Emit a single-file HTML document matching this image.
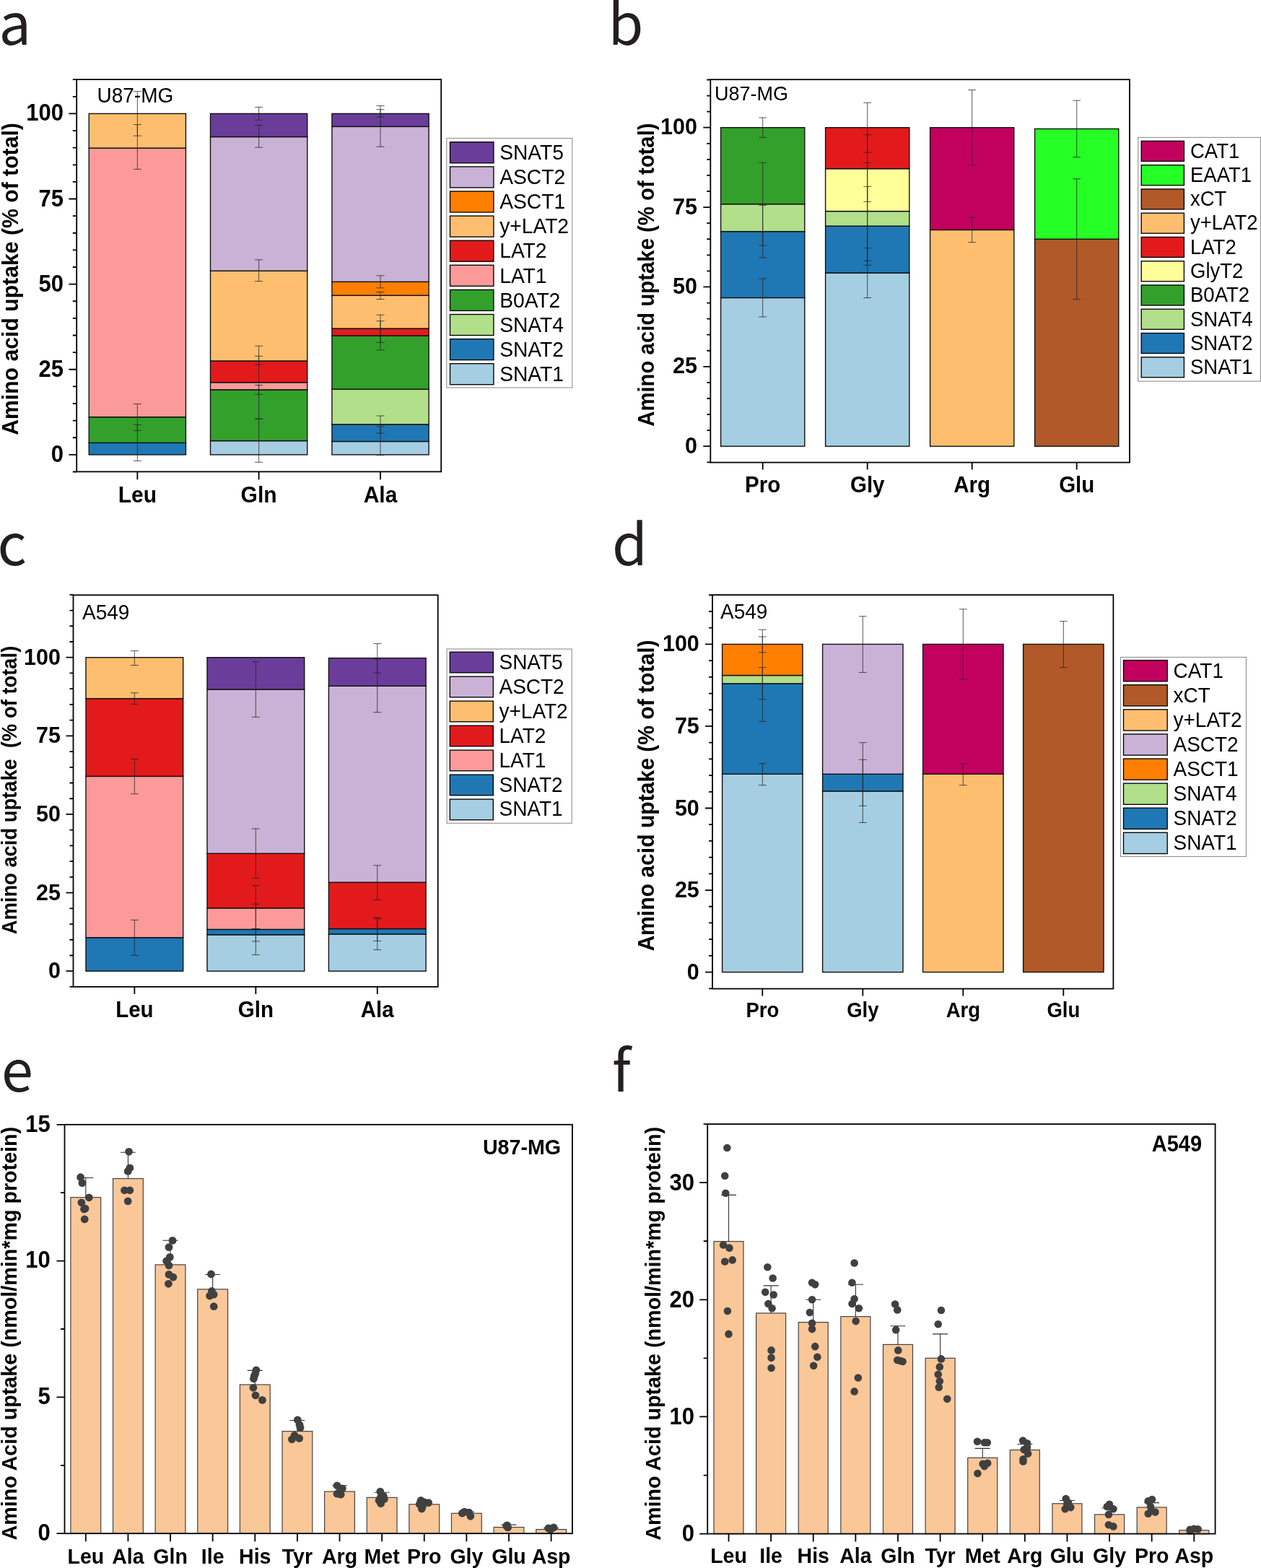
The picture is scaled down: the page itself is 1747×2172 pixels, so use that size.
<!DOCTYPE html><html><head><meta charset="utf-8"><title>Amino acid uptake figure</title><style>html,body{margin:0;padding:0;background:#fff;}svg{display:block;}</style></head><body>
<svg width="1747" height="2172" viewBox="0 0 1747 2172">
<rect width="1747" height="2172" fill="#fff"/>
<rect x="123.25" y="613.36" width="134.2" height="16.54" fill="#1f78b4" stroke="#111" stroke-width="1.4"/>
<rect x="123.25" y="577.69" width="134.2" height="35.67" fill="#33a02c" stroke="#111" stroke-width="1.4"/>
<rect x="123.25" y="205.12" width="134.2" height="372.57" fill="#fb9a99" stroke="#111" stroke-width="1.4"/>
<rect x="123.25" y="157.4" width="134.2" height="47.72" fill="#fdbf6f" stroke="#111" stroke-width="1.4"/>
<rect x="291.5" y="610.62" width="134.2" height="19.28" fill="#a6cee3" stroke="#111" stroke-width="1.4"/>
<rect x="291.5" y="539.84" width="134.2" height="70.78" fill="#33a02c" stroke="#111" stroke-width="1.4"/>
<rect x="291.5" y="529.73" width="134.2" height="10.11" fill="#fb9a99" stroke="#111" stroke-width="1.4"/>
<rect x="291.5" y="499.96" width="134.2" height="29.77" fill="#e31a1c" stroke="#111" stroke-width="1.4"/>
<rect x="291.5" y="375.22" width="134.2" height="124.74" fill="#fdbf6f" stroke="#111" stroke-width="1.4"/>
<rect x="291.5" y="189.53" width="134.2" height="185.69" fill="#cab2d6" stroke="#111" stroke-width="1.4"/>
<rect x="291.5" y="157.4" width="134.2" height="32.13" fill="#6a3d9a" stroke="#111" stroke-width="1.4"/>
<rect x="459.9" y="611.47" width="134.2" height="18.43" fill="#a6cee3" stroke="#111" stroke-width="1.4"/>
<rect x="459.9" y="587.85" width="134.2" height="23.62" fill="#1f78b4" stroke="#111" stroke-width="1.4"/>
<rect x="459.9" y="539.18" width="134.2" height="48.67" fill="#b2df8a" stroke="#111" stroke-width="1.4"/>
<rect x="459.9" y="465" width="134.2" height="74.18" fill="#33a02c" stroke="#111" stroke-width="1.4"/>
<rect x="459.9" y="455.07" width="134.2" height="9.92" fill="#e31a1c" stroke="#111" stroke-width="1.4"/>
<rect x="459.9" y="409.24" width="134.2" height="45.83" fill="#fdbf6f" stroke="#111" stroke-width="1.4"/>
<rect x="459.9" y="390.34" width="134.2" height="18.9" fill="#ff7f00" stroke="#111" stroke-width="1.4"/>
<rect x="459.9" y="175.36" width="134.2" height="214.99" fill="#cab2d6" stroke="#111" stroke-width="1.4"/>
<rect x="459.9" y="157.4" width="134.2" height="17.95" fill="#6a3d9a" stroke="#111" stroke-width="1.4"/>
<path d="M190.35 126.69V188.11M184.85 126.69h11M184.85 188.11h11" stroke="#222" stroke-opacity="0.8" stroke-width="0.95" fill="none"/>
<path d="M190.35 172.52V234.42M184.85 172.52h11M184.85 234.42h11" stroke="#222" stroke-opacity="0.8" stroke-width="0.95" fill="none"/>
<path d="M190.35 559.5V596.35M184.85 559.5h11M184.85 596.35h11" stroke="#222" stroke-opacity="0.8" stroke-width="0.95" fill="none"/>
<path d="M190.35 588.32V638.4M184.85 588.32h11M184.85 638.4h11" stroke="#222" stroke-opacity="0.8" stroke-width="0.95" fill="none"/>
<path d="M358.6 148.42V166.38M353.1 148.42h11M353.1 166.38h11" stroke="#222" stroke-opacity="0.8" stroke-width="0.95" fill="none"/>
<path d="M358.6 173.47V204.18M353.1 173.47h11M353.1 204.18h11" stroke="#222" stroke-opacity="0.8" stroke-width="0.95" fill="none"/>
<path d="M358.6 359.87V389.63M353.1 359.87h11M353.1 389.63h11" stroke="#222" stroke-opacity="0.8" stroke-width="0.95" fill="none"/>
<path d="M358.6 493.35V505.16M353.1 493.35h11M353.1 505.16h11" stroke="#222" stroke-opacity="0.8" stroke-width="0.95" fill="none"/>
<path d="M358.6 479.17V580.29M353.1 479.17h11M353.1 580.29h11" stroke="#222" stroke-opacity="0.8" stroke-width="0.95" fill="none"/>
<path d="M358.6 533.51V546.27M353.1 533.51h11M353.1 546.27h11" stroke="#222" stroke-opacity="0.8" stroke-width="0.95" fill="none"/>
<path d="M358.6 580.29V640.29M353.1 580.29h11M353.1 640.29h11" stroke="#222" stroke-opacity="0.8" stroke-width="0.95" fill="none"/>
<path d="M527 151.73V162.12M521.5 151.73h11M521.5 162.12h11" stroke="#222" stroke-opacity="0.8" stroke-width="0.95" fill="none"/>
<path d="M527 146.53V203.23M521.5 146.53h11M521.5 203.23h11" stroke="#222" stroke-opacity="0.8" stroke-width="0.95" fill="none"/>
<path d="M527 381.84V398.85M521.5 381.84h11M521.5 398.85h11" stroke="#222" stroke-opacity="0.8" stroke-width="0.95" fill="none"/>
<path d="M527 404.52V414.44M521.5 404.52h11M521.5 414.44h11" stroke="#222" stroke-opacity="0.8" stroke-width="0.95" fill="none"/>
<path d="M527 436.17V474.45M521.5 436.17h11M521.5 474.45h11" stroke="#222" stroke-opacity="0.8" stroke-width="0.95" fill="none"/>
<path d="M527 444.68V484.84M521.5 444.68h11M521.5 484.84h11" stroke="#222" stroke-opacity="0.8" stroke-width="0.95" fill="none"/>
<path d="M527 576.03V600.13M521.5 576.03h11M521.5 600.13h11" stroke="#222" stroke-opacity="0.8" stroke-width="0.95" fill="none"/>
<path d="M527 590.92V630.61M521.5 590.92h11M521.5 630.61h11" stroke="#222" stroke-opacity="0.8" stroke-width="0.95" fill="none"/>
<rect x="106.2" y="110.1" width="505" height="543.3" fill="none" stroke="#000" stroke-width="1.8"/>
<path d="M100.8 653.52H106.2M95.4 629.9H106.2M100.8 606.27H106.2M100.8 582.65H106.2M100.8 559.02H106.2M100.8 535.4H106.2M95.4 511.77H106.2M100.8 488.15H106.2M100.8 464.52H106.2M100.8 440.9H106.2M100.8 417.27H106.2M95.4 393.65H106.2M100.8 370.02H106.2M100.8 346.4H106.2M100.8 322.77H106.2M100.8 299.15H106.2M95.4 275.52H106.2M100.8 251.9H106.2M100.8 228.28H106.2M100.8 204.65H106.2M100.8 181.03H106.2M95.4 157.4H106.2M100.8 133.78H106.2M100.8 110.15H106.2M190.35 653.4v10.8M358.6 653.4v10.8M527 653.4v10.8" stroke="#000" stroke-width="1.8" fill="none"/>
<text transform="translate(88,639.9) scale(1,1.05)" font-family="Liberation Sans, Arial, sans-serif" font-weight="bold" font-size="31" text-anchor="end">0</text>
<text transform="translate(88,521.77) scale(1,1.05)" font-family="Liberation Sans, Arial, sans-serif" font-weight="bold" font-size="31" text-anchor="end">25</text>
<text transform="translate(88,403.65) scale(1,1.05)" font-family="Liberation Sans, Arial, sans-serif" font-weight="bold" font-size="31" text-anchor="end">50</text>
<text transform="translate(88,285.52) scale(1,1.05)" font-family="Liberation Sans, Arial, sans-serif" font-weight="bold" font-size="31" text-anchor="end">75</text>
<text transform="translate(88,167.4) scale(1,1.05)" font-family="Liberation Sans, Arial, sans-serif" font-weight="bold" font-size="31" text-anchor="end">100</text>
<text transform="translate(190.35,696) scale(1,1.05)" font-family="Liberation Sans, Arial, sans-serif" font-weight="bold" font-size="30" text-anchor="middle">Leu</text>
<text transform="translate(358.6,696) scale(1,1.05)" font-family="Liberation Sans, Arial, sans-serif" font-weight="bold" font-size="30" text-anchor="middle">Gln</text>
<text transform="translate(527,696) scale(1,1.05)" font-family="Liberation Sans, Arial, sans-serif" font-weight="bold" font-size="30" text-anchor="middle">Ala</text>
<text transform="translate(24.9,386.5) rotate(-90) scale(1,1.06)" font-family="Liberation Sans, Arial, sans-serif" font-weight="bold" font-size="30.2" text-anchor="middle" xml:space="preserve">Amino acid uptake (% of total)</text>
<text transform="translate(134.5,142.4) scale(1,1.05)" font-family="Liberation Sans, Arial, sans-serif" font-size="28">U87-MG</text>
<rect x="618.8" y="191.5" width="174" height="345.5" fill="#fff" stroke="#909090" stroke-width="1.1"/>
<rect x="623.5" y="196.8" width="60.4" height="29" fill="#6a3d9a" stroke="#000" stroke-width="1.35"/>
<text transform="translate(692.2,221) scale(1,1.05)" font-family="Liberation Sans, Arial, sans-serif" font-size="28.2">SNAT5</text>
<rect x="623.5" y="230.9" width="60.4" height="29" fill="#cab2d6" stroke="#000" stroke-width="1.35"/>
<text transform="translate(692.2,255.1) scale(1,1.05)" font-family="Liberation Sans, Arial, sans-serif" font-size="28.2">ASCT2</text>
<rect x="623.5" y="265" width="60.4" height="29" fill="#ff7f00" stroke="#000" stroke-width="1.35"/>
<text transform="translate(692.2,289.2) scale(1,1.05)" font-family="Liberation Sans, Arial, sans-serif" font-size="28.2">ASCT1</text>
<rect x="623.5" y="299.1" width="60.4" height="29" fill="#fdbf6f" stroke="#000" stroke-width="1.35"/>
<text transform="translate(692.2,323.3) scale(1,1.05)" font-family="Liberation Sans, Arial, sans-serif" font-size="28.2">y+LAT2</text>
<rect x="623.5" y="333.2" width="60.4" height="29" fill="#e31a1c" stroke="#000" stroke-width="1.35"/>
<text transform="translate(692.2,357.4) scale(1,1.05)" font-family="Liberation Sans, Arial, sans-serif" font-size="28.2">LAT2</text>
<rect x="623.5" y="367.3" width="60.4" height="29" fill="#fb9a99" stroke="#000" stroke-width="1.35"/>
<text transform="translate(692.2,391.5) scale(1,1.05)" font-family="Liberation Sans, Arial, sans-serif" font-size="28.2">LAT1</text>
<rect x="623.5" y="401.4" width="60.4" height="29" fill="#33a02c" stroke="#000" stroke-width="1.35"/>
<text transform="translate(692.2,425.6) scale(1,1.05)" font-family="Liberation Sans, Arial, sans-serif" font-size="28.2">B0AT2</text>
<rect x="623.5" y="435.5" width="60.4" height="29" fill="#b2df8a" stroke="#000" stroke-width="1.35"/>
<text transform="translate(692.2,459.7) scale(1,1.05)" font-family="Liberation Sans, Arial, sans-serif" font-size="28.2">SNAT4</text>
<rect x="623.5" y="469.6" width="60.4" height="29" fill="#1f78b4" stroke="#000" stroke-width="1.35"/>
<text transform="translate(692.2,493.8) scale(1,1.05)" font-family="Liberation Sans, Arial, sans-serif" font-size="28.2">SNAT2</text>
<rect x="623.5" y="503.7" width="60.4" height="29" fill="#a6cee3" stroke="#000" stroke-width="1.35"/>
<text transform="translate(692.2,527.9) scale(1,1.05)" font-family="Liberation Sans, Arial, sans-serif" font-size="28.2">SNAT1</text>
<rect x="998.6" y="412.46" width="116.2" height="205.74" fill="#a6cee3" stroke="#111" stroke-width="1.4"/>
<rect x="998.6" y="320.63" width="116.2" height="91.83" fill="#1f78b4" stroke="#111" stroke-width="1.4"/>
<rect x="998.6" y="282.66" width="116.2" height="37.97" fill="#b2df8a" stroke="#111" stroke-width="1.4"/>
<rect x="998.6" y="176.7" width="116.2" height="105.96" fill="#33a02c" stroke="#111" stroke-width="1.4"/>
<rect x="1143.6" y="378.02" width="116.2" height="240.18" fill="#a6cee3" stroke="#111" stroke-width="1.4"/>
<rect x="1143.6" y="313.12" width="116.2" height="64.9" fill="#1f78b4" stroke="#111" stroke-width="1.4"/>
<rect x="1143.6" y="292.59" width="116.2" height="20.53" fill="#b2df8a" stroke="#111" stroke-width="1.4"/>
<rect x="1143.6" y="233.65" width="116.2" height="58.94" fill="#ffff99" stroke="#111" stroke-width="1.4"/>
<rect x="1143.6" y="176.7" width="116.2" height="56.95" fill="#e31a1c" stroke="#111" stroke-width="1.4"/>
<rect x="1288.6" y="318.42" width="116.2" height="299.78" fill="#fdbf6f" stroke="#111" stroke-width="1.4"/>
<rect x="1288.6" y="176.7" width="116.2" height="141.72" fill="#c2005e" stroke="#111" stroke-width="1.4"/>
<rect x="1433.6" y="331.23" width="116.2" height="286.98" fill="#b15928" stroke="#111" stroke-width="1.4"/>
<rect x="1433.6" y="178.47" width="116.2" height="152.76" fill="#25ff25" stroke="#111" stroke-width="1.4"/>
<path d="M1056.7 163.01V190.39M1051.35 163.01h10.7M1051.35 190.39h10.7" stroke="#222" stroke-opacity="0.8" stroke-width="0.95" fill="none"/>
<path d="M1056.7 225.27V340.06M1051.35 225.27h10.7M1051.35 340.06h10.7" stroke="#222" stroke-opacity="0.8" stroke-width="0.95" fill="none"/>
<path d="M1056.7 284.43V356.83M1051.35 284.43h10.7M1051.35 356.83h10.7" stroke="#222" stroke-opacity="0.8" stroke-width="0.95" fill="none"/>
<path d="M1056.7 385.97V438.95M1051.35 385.97h10.7M1051.35 438.95h10.7" stroke="#222" stroke-opacity="0.8" stroke-width="0.95" fill="none"/>
<path d="M1201.7 142.26V211.14M1196.35 142.26h10.7M1196.35 211.14h10.7" stroke="#222" stroke-opacity="0.8" stroke-width="0.95" fill="none"/>
<path d="M1201.7 186.63V279.35M1196.35 186.63h10.7M1196.35 279.35h10.7" stroke="#222" stroke-opacity="0.8" stroke-width="0.95" fill="none"/>
<path d="M1201.7 225.27V361.25M1196.35 225.27h10.7M1196.35 361.25h10.7" stroke="#222" stroke-opacity="0.8" stroke-width="0.95" fill="none"/>
<path d="M1201.7 258.38V367.43M1196.35 258.38h10.7M1196.35 367.43h10.7" stroke="#222" stroke-opacity="0.8" stroke-width="0.95" fill="none"/>
<path d="M1201.7 343.59V412.46M1196.35 343.59h10.7M1196.35 412.46h10.7" stroke="#222" stroke-opacity="0.8" stroke-width="0.95" fill="none"/>
<path d="M1346.7 124.6V228.8M1341.35 124.6h10.7M1341.35 228.8h10.7" stroke="#222" stroke-opacity="0.8" stroke-width="0.95" fill="none"/>
<path d="M1346.7 301.2V335.64M1341.35 301.2h10.7M1341.35 335.64h10.7" stroke="#222" stroke-opacity="0.8" stroke-width="0.95" fill="none"/>
<path d="M1491.7 139.17V217.76M1486.35 139.17h10.7M1486.35 217.76h10.7" stroke="#222" stroke-opacity="0.8" stroke-width="0.95" fill="none"/>
<path d="M1491.7 247.78V414.67M1486.35 247.78h10.7M1486.35 414.67h10.7" stroke="#222" stroke-opacity="0.8" stroke-width="0.95" fill="none"/>
<rect x="984.3" y="110.2" width="580.7" height="530.4" fill="none" stroke="#000" stroke-width="1.8"/>
<path d="M979.3 640.28H984.3M974.3 618.2H984.3M979.3 596.12H984.3M979.3 574.05H984.3M979.3 551.98H984.3M979.3 529.9H984.3M974.3 507.83H984.3M979.3 485.75H984.3M979.3 463.68H984.3M979.3 441.6H984.3M979.3 419.53H984.3M974.3 397.45H984.3M979.3 375.38H984.3M979.3 353.3H984.3M979.3 331.23H984.3M979.3 309.15H984.3M974.3 287.08H984.3M979.3 265H984.3M979.3 242.93H984.3M979.3 220.85H984.3M979.3 198.78H984.3M974.3 176.7H984.3M979.3 154.63H984.3M979.3 132.55H984.3M979.3 110.48H984.3M1056.7 640.6v10M1201.7 640.6v10M1346.7 640.6v10M1491.7 640.6v10" stroke="#000" stroke-width="1.8" fill="none"/>
<text transform="translate(966,627.8) scale(1,1.05)" font-family="Liberation Sans, Arial, sans-serif" font-weight="bold" font-size="30.5" text-anchor="end">0</text>
<text transform="translate(966,517.43) scale(1,1.05)" font-family="Liberation Sans, Arial, sans-serif" font-weight="bold" font-size="30.5" text-anchor="end">25</text>
<text transform="translate(966,407.05) scale(1,1.05)" font-family="Liberation Sans, Arial, sans-serif" font-weight="bold" font-size="30.5" text-anchor="end">50</text>
<text transform="translate(966,296.68) scale(1,1.05)" font-family="Liberation Sans, Arial, sans-serif" font-weight="bold" font-size="30.5" text-anchor="end">75</text>
<text transform="translate(966,186.3) scale(1,1.05)" font-family="Liberation Sans, Arial, sans-serif" font-weight="bold" font-size="30.5" text-anchor="end">100</text>
<text transform="translate(1056.7,682.1) scale(1,1.05)" font-family="Liberation Sans, Arial, sans-serif" font-weight="bold" font-size="29.5" text-anchor="middle">Pro</text>
<text transform="translate(1201.7,682.1) scale(1,1.05)" font-family="Liberation Sans, Arial, sans-serif" font-weight="bold" font-size="29.5" text-anchor="middle">Gly</text>
<text transform="translate(1346.7,682.1) scale(1,1.05)" font-family="Liberation Sans, Arial, sans-serif" font-weight="bold" font-size="29.5" text-anchor="middle">Arg</text>
<text transform="translate(1491.7,682.1) scale(1,1.05)" font-family="Liberation Sans, Arial, sans-serif" font-weight="bold" font-size="29.5" text-anchor="middle">Glu</text>
<text transform="translate(905.6,380.6) rotate(-90) scale(1,1.06)" font-family="Liberation Sans, Arial, sans-serif" font-weight="bold" font-size="29.33" text-anchor="middle" xml:space="preserve">Amino acid uptake (% of total)</text>
<text transform="translate(990,139) scale(1,1.05)" font-family="Liberation Sans, Arial, sans-serif" font-size="27">U87-MG</text>
<rect x="1576.7" y="190.4" width="169.8" height="337.7" fill="#fff" stroke="#909090" stroke-width="1.1"/>
<rect x="1581.2" y="195.4" width="59.2" height="28" fill="#c2005e" stroke="#000" stroke-width="1.35"/>
<text transform="translate(1649,218.7) scale(1,1.05)" font-family="Liberation Sans, Arial, sans-serif" font-size="27.5">CAT1</text>
<rect x="1581.2" y="228.66" width="59.2" height="28" fill="#25ff25" stroke="#000" stroke-width="1.35"/>
<text transform="translate(1649,251.96) scale(1,1.05)" font-family="Liberation Sans, Arial, sans-serif" font-size="27.5">EAAT1</text>
<rect x="1581.2" y="261.92" width="59.2" height="28" fill="#b15928" stroke="#000" stroke-width="1.35"/>
<text transform="translate(1649,285.22) scale(1,1.05)" font-family="Liberation Sans, Arial, sans-serif" font-size="27.5">xCT</text>
<rect x="1581.2" y="295.18" width="59.2" height="28" fill="#fdbf6f" stroke="#000" stroke-width="1.35"/>
<text transform="translate(1649,318.48) scale(1,1.05)" font-family="Liberation Sans, Arial, sans-serif" font-size="27.5">y+LAT2</text>
<rect x="1581.2" y="328.44" width="59.2" height="28" fill="#e31a1c" stroke="#000" stroke-width="1.35"/>
<text transform="translate(1649,351.74) scale(1,1.05)" font-family="Liberation Sans, Arial, sans-serif" font-size="27.5">LAT2</text>
<rect x="1581.2" y="361.7" width="59.2" height="28" fill="#ffff99" stroke="#000" stroke-width="1.35"/>
<text transform="translate(1649,385) scale(1,1.05)" font-family="Liberation Sans, Arial, sans-serif" font-size="27.5">GlyT2</text>
<rect x="1581.2" y="394.96" width="59.2" height="28" fill="#33a02c" stroke="#000" stroke-width="1.35"/>
<text transform="translate(1649,418.26) scale(1,1.05)" font-family="Liberation Sans, Arial, sans-serif" font-size="27.5">B0AT2</text>
<rect x="1581.2" y="428.22" width="59.2" height="28" fill="#b2df8a" stroke="#000" stroke-width="1.35"/>
<text transform="translate(1649,451.52) scale(1,1.05)" font-family="Liberation Sans, Arial, sans-serif" font-size="27.5">SNAT4</text>
<rect x="1581.2" y="461.48" width="59.2" height="28" fill="#1f78b4" stroke="#000" stroke-width="1.35"/>
<text transform="translate(1649,484.78) scale(1,1.05)" font-family="Liberation Sans, Arial, sans-serif" font-size="27.5">SNAT2</text>
<rect x="1581.2" y="494.74" width="59.2" height="28" fill="#a6cee3" stroke="#000" stroke-width="1.35"/>
<text transform="translate(1649,518.04) scale(1,1.05)" font-family="Liberation Sans, Arial, sans-serif" font-size="27.5">SNAT1</text>
<rect x="119" y="1298.71" width="134.7" height="46.49" fill="#1f78b4" stroke="#111" stroke-width="1.4"/>
<rect x="119" y="1075.38" width="134.7" height="223.33" fill="#fb9a99" stroke="#111" stroke-width="1.4"/>
<rect x="119" y="967.62" width="134.7" height="107.76" fill="#e31a1c" stroke="#111" stroke-width="1.4"/>
<rect x="119" y="910.7" width="134.7" height="56.92" fill="#fdbf6f" stroke="#111" stroke-width="1.4"/>
<rect x="287" y="1294.8" width="134.7" height="50.4" fill="#a6cee3" stroke="#111" stroke-width="1.4"/>
<rect x="287" y="1287.41" width="134.7" height="7.39" fill="#1f78b4" stroke="#111" stroke-width="1.4"/>
<rect x="287" y="1257.87" width="134.7" height="29.55" fill="#fb9a99" stroke="#111" stroke-width="1.4"/>
<rect x="287" y="1182.26" width="134.7" height="75.6" fill="#e31a1c" stroke="#111" stroke-width="1.4"/>
<rect x="287" y="955.02" width="134.7" height="227.24" fill="#cab2d6" stroke="#111" stroke-width="1.4"/>
<rect x="287" y="910.7" width="134.7" height="44.32" fill="#6a3d9a" stroke="#111" stroke-width="1.4"/>
<rect x="455.4" y="1293.93" width="134.7" height="51.27" fill="#a6cee3" stroke="#111" stroke-width="1.4"/>
<rect x="455.4" y="1286.54" width="134.7" height="7.39" fill="#1f78b4" stroke="#111" stroke-width="1.4"/>
<rect x="455.4" y="1222.24" width="134.7" height="64.31" fill="#e31a1c" stroke="#111" stroke-width="1.4"/>
<rect x="455.4" y="950.24" width="134.7" height="272" fill="#cab2d6" stroke="#111" stroke-width="1.4"/>
<rect x="455.4" y="911.57" width="134.7" height="38.67" fill="#6a3d9a" stroke="#111" stroke-width="1.4"/>
<path d="M186.35 901.58V921.56M180.85 901.58h11M180.85 921.56h11" stroke="#222" stroke-opacity="0.8" stroke-width="0.95" fill="none"/>
<path d="M186.35 959.8V975.44M180.85 959.8h11M180.85 975.44h11" stroke="#222" stroke-opacity="0.8" stroke-width="0.95" fill="none"/>
<path d="M186.35 1051.48V1099.71M180.85 1051.48h11M180.85 1099.71h11" stroke="#222" stroke-opacity="0.8" stroke-width="0.95" fill="none"/>
<path d="M186.35 1274.38V1323.48M180.85 1274.38h11M180.85 1323.48h11" stroke="#222" stroke-opacity="0.8" stroke-width="0.95" fill="none"/>
<path d="M354.35 916.78V993.26M348.85 916.78h11M348.85 993.26h11" stroke="#222" stroke-opacity="0.8" stroke-width="0.95" fill="none"/>
<path d="M354.35 1147.94V1216.59M348.85 1147.94h11M348.85 1216.59h11" stroke="#222" stroke-opacity="0.8" stroke-width="0.95" fill="none"/>
<path d="M354.35 1226.58V1286.54M348.85 1226.58h11M348.85 1286.54h11" stroke="#222" stroke-opacity="0.8" stroke-width="0.95" fill="none"/>
<path d="M354.35 1252.22V1322.61M348.85 1252.22h11M348.85 1322.61h11" stroke="#222" stroke-opacity="0.8" stroke-width="0.95" fill="none"/>
<path d="M354.35 1286.54V1303.92M348.85 1286.54h11M348.85 1303.92h11" stroke="#222" stroke-opacity="0.8" stroke-width="0.95" fill="none"/>
<path d="M522.75 891.58V931.99M517.25 891.58h11M517.25 931.99h11" stroke="#222" stroke-opacity="0.8" stroke-width="0.95" fill="none"/>
<path d="M522.75 912.87V986.74M517.25 912.87h11M517.25 986.74h11" stroke="#222" stroke-opacity="0.8" stroke-width="0.95" fill="none"/>
<path d="M522.75 1198.77V1246.57M517.25 1198.77h11M517.25 1246.57h11" stroke="#222" stroke-opacity="0.8" stroke-width="0.95" fill="none"/>
<path d="M522.75 1270.9V1303.49M517.25 1270.9h11M517.25 1303.49h11" stroke="#222" stroke-opacity="0.8" stroke-width="0.95" fill="none"/>
<path d="M522.75 1272.64V1315.65M517.25 1272.64h11M517.25 1315.65h11" stroke="#222" stroke-opacity="0.8" stroke-width="0.95" fill="none"/>
<rect x="101.5" y="824.3" width="505.2" height="542.6" fill="none" stroke="#000" stroke-width="1.8"/>
<path d="M96.5 1366.92H101.5M91.5 1345.2H101.5M96.5 1323.48H101.5M96.5 1301.75H101.5M96.5 1280.03H101.5M96.5 1258.3H101.5M91.5 1236.58H101.5M96.5 1214.85H101.5M96.5 1193.12H101.5M96.5 1171.4H101.5M96.5 1149.68H101.5M91.5 1127.95H101.5M96.5 1106.23H101.5M96.5 1084.5H101.5M96.5 1062.78H101.5M96.5 1041.05H101.5M91.5 1019.33H101.5M96.5 997.6H101.5M96.5 975.88H101.5M96.5 954.15H101.5M96.5 932.43H101.5M91.5 910.7H101.5M96.5 888.98H101.5M96.5 867.25H101.5M96.5 845.53H101.5M96.5 823.8H101.5M186.35 1366.9v10M354.35 1366.9v10M522.75 1366.9v10" stroke="#000" stroke-width="1.8" fill="none"/>
<text transform="translate(84,1355.2) scale(1,1.05)" font-family="Liberation Sans, Arial, sans-serif" font-weight="bold" font-size="30.5" text-anchor="end">0</text>
<text transform="translate(84,1246.58) scale(1,1.05)" font-family="Liberation Sans, Arial, sans-serif" font-weight="bold" font-size="30.5" text-anchor="end">25</text>
<text transform="translate(84,1137.95) scale(1,1.05)" font-family="Liberation Sans, Arial, sans-serif" font-weight="bold" font-size="30.5" text-anchor="end">50</text>
<text transform="translate(84,1029.33) scale(1,1.05)" font-family="Liberation Sans, Arial, sans-serif" font-weight="bold" font-size="30.5" text-anchor="end">75</text>
<text transform="translate(84,920.7) scale(1,1.05)" font-family="Liberation Sans, Arial, sans-serif" font-weight="bold" font-size="30.5" text-anchor="end">100</text>
<text transform="translate(186.35,1408.8) scale(1,1.05)" font-family="Liberation Sans, Arial, sans-serif" font-weight="bold" font-size="29.5" text-anchor="middle">Leu</text>
<text transform="translate(354.35,1408.8) scale(1,1.05)" font-family="Liberation Sans, Arial, sans-serif" font-weight="bold" font-size="29.5" text-anchor="middle">Gln</text>
<text transform="translate(522.75,1408.8) scale(1,1.05)" font-family="Liberation Sans, Arial, sans-serif" font-weight="bold" font-size="29.5" text-anchor="middle">Ala</text>
<text transform="translate(23.3,1094.5) rotate(-90) scale(1,1.06)" font-family="Liberation Sans, Arial, sans-serif" font-weight="bold" font-size="27.35" text-anchor="middle" xml:space="preserve">Amino acid uptake  (% of total)</text>
<text transform="translate(114,858.2) scale(1,1.05)" font-family="Liberation Sans, Arial, sans-serif" font-size="28">A549</text>
<rect x="619.1" y="899" width="173.1" height="241.3" fill="#fff" stroke="#909090" stroke-width="1.1"/>
<rect x="623.3" y="903.2" width="60" height="28.6" fill="#6a3d9a" stroke="#000" stroke-width="1.35"/>
<text transform="translate(691.5,926.6) scale(1,1.05)" font-family="Liberation Sans, Arial, sans-serif" font-size="28">SNAT5</text>
<rect x="623.3" y="937.18" width="60" height="28.6" fill="#cab2d6" stroke="#000" stroke-width="1.35"/>
<text transform="translate(691.5,960.58) scale(1,1.05)" font-family="Liberation Sans, Arial, sans-serif" font-size="28">ASCT2</text>
<rect x="623.3" y="971.16" width="60" height="28.6" fill="#fdbf6f" stroke="#000" stroke-width="1.35"/>
<text transform="translate(691.5,994.56) scale(1,1.05)" font-family="Liberation Sans, Arial, sans-serif" font-size="28">y+LAT2</text>
<rect x="623.3" y="1005.14" width="60" height="28.6" fill="#e31a1c" stroke="#000" stroke-width="1.35"/>
<text transform="translate(691.5,1028.54) scale(1,1.05)" font-family="Liberation Sans, Arial, sans-serif" font-size="28">LAT2</text>
<rect x="623.3" y="1039.12" width="60" height="28.6" fill="#fb9a99" stroke="#000" stroke-width="1.35"/>
<text transform="translate(691.5,1062.52) scale(1,1.05)" font-family="Liberation Sans, Arial, sans-serif" font-size="28">LAT1</text>
<rect x="623.3" y="1073.1" width="60" height="28.6" fill="#1f78b4" stroke="#000" stroke-width="1.35"/>
<text transform="translate(691.5,1096.5) scale(1,1.05)" font-family="Liberation Sans, Arial, sans-serif" font-size="28">SNAT2</text>
<rect x="623.3" y="1107.08" width="60" height="28.6" fill="#a6cee3" stroke="#000" stroke-width="1.35"/>
<text transform="translate(691.5,1130.48) scale(1,1.05)" font-family="Liberation Sans, Arial, sans-serif" font-size="28">SNAT1</text>
<rect x="1000.6" y="1072.26" width="111.4" height="274.34" fill="#a6cee3" stroke="#111" stroke-width="1.4"/>
<rect x="1000.6" y="946.9" width="111.4" height="125.36" fill="#1f78b4" stroke="#111" stroke-width="1.4"/>
<rect x="1000.6" y="935.55" width="111.4" height="11.36" fill="#b2df8a" stroke="#111" stroke-width="1.4"/>
<rect x="1000.6" y="892.4" width="111.4" height="43.15" fill="#ff7f00" stroke="#111" stroke-width="1.4"/>
<rect x="1139.6" y="1095.88" width="111.4" height="250.72" fill="#a6cee3" stroke="#111" stroke-width="1.4"/>
<rect x="1139.6" y="1072.26" width="111.4" height="23.62" fill="#1f78b4" stroke="#111" stroke-width="1.4"/>
<rect x="1139.6" y="892.4" width="111.4" height="179.86" fill="#cab2d6" stroke="#111" stroke-width="1.4"/>
<rect x="1278.6" y="1072.26" width="111.4" height="274.34" fill="#fdbf6f" stroke="#111" stroke-width="1.4"/>
<rect x="1278.6" y="892.4" width="111.4" height="179.86" fill="#c2005e" stroke="#111" stroke-width="1.4"/>
<rect x="1417.6" y="892.4" width="111.4" height="454.2" fill="#b15928" stroke="#111" stroke-width="1.4"/>
<path d="M1056.3 881.95V903.75M1050.95 881.95h10.7M1050.95 903.75h10.7" stroke="#222" stroke-opacity="0.8" stroke-width="0.95" fill="none"/>
<path d="M1056.3 872.19V999.36M1050.95 872.19h10.7M1050.95 999.36h10.7" stroke="#222" stroke-opacity="0.8" stroke-width="0.95" fill="none"/>
<path d="M1056.3 924.65V968.71M1050.95 924.65h10.7M1050.95 968.71h10.7" stroke="#222" stroke-opacity="0.8" stroke-width="0.95" fill="none"/>
<path d="M1056.3 1057.73V1087.71M1050.95 1057.73h10.7M1050.95 1087.71h10.7" stroke="#222" stroke-opacity="0.8" stroke-width="0.95" fill="none"/>
<path d="M1195.3 853.79V931.46M1189.95 853.79h10.7M1189.95 931.46h10.7" stroke="#222" stroke-opacity="0.8" stroke-width="0.95" fill="none"/>
<path d="M1195.3 1028.66V1116.32M1189.95 1028.66h10.7M1189.95 1116.32h10.7" stroke="#222" stroke-opacity="0.8" stroke-width="0.95" fill="none"/>
<path d="M1195.3 1052.28V1139.48M1189.95 1052.28h10.7M1189.95 1139.48h10.7" stroke="#222" stroke-opacity="0.8" stroke-width="0.95" fill="none"/>
<path d="M1334.3 843.8V941M1328.95 843.8h10.7M1328.95 941h10.7" stroke="#222" stroke-opacity="0.8" stroke-width="0.95" fill="none"/>
<path d="M1334.3 1057.73V1087.71M1328.95 1057.73h10.7M1328.95 1087.71h10.7" stroke="#222" stroke-opacity="0.8" stroke-width="0.95" fill="none"/>
<path d="M1473.3 860.61V924.65M1467.95 860.61h10.7M1467.95 924.65h10.7" stroke="#222" stroke-opacity="0.8" stroke-width="0.95" fill="none"/>
<rect x="987" y="824.1" width="555.4" height="545.5" fill="none" stroke="#000" stroke-width="1.8"/>
<path d="M982 1369.31H987M977 1346.6H987M982 1323.89H987M982 1301.18H987M982 1278.47H987M982 1255.76H987M977 1233.05H987M982 1210.34H987M982 1187.63H987M982 1164.92H987M982 1142.21H987M977 1119.5H987M982 1096.79H987M982 1074.08H987M982 1051.37H987M982 1028.66H987M977 1005.95H987M982 983.24H987M982 960.53H987M982 937.82H987M982 915.11H987M977 892.4H987M982 869.69H987M982 846.98H987M982 824.27H987M1056.3 1369.6v10M1195.3 1369.6v10M1334.3 1369.6v10M1473.3 1369.6v10" stroke="#000" stroke-width="1.8" fill="none"/>
<text transform="translate(968.8,1356.6) scale(1,1.05)" font-family="Liberation Sans, Arial, sans-serif" font-weight="bold" font-size="30.5" text-anchor="end">0</text>
<text transform="translate(968.8,1243.05) scale(1,1.05)" font-family="Liberation Sans, Arial, sans-serif" font-weight="bold" font-size="30.5" text-anchor="end">25</text>
<text transform="translate(968.8,1129.5) scale(1,1.05)" font-family="Liberation Sans, Arial, sans-serif" font-weight="bold" font-size="30.5" text-anchor="end">50</text>
<text transform="translate(968.8,1015.95) scale(1,1.05)" font-family="Liberation Sans, Arial, sans-serif" font-weight="bold" font-size="30.5" text-anchor="end">75</text>
<text transform="translate(968.8,902.4) scale(1,1.05)" font-family="Liberation Sans, Arial, sans-serif" font-weight="bold" font-size="30.5" text-anchor="end">100</text>
<text transform="translate(1056.3,1409) scale(1,1.05)" font-family="Liberation Sans, Arial, sans-serif" font-weight="bold" font-size="27.5" text-anchor="middle">Pro</text>
<text transform="translate(1195.3,1409) scale(1,1.05)" font-family="Liberation Sans, Arial, sans-serif" font-weight="bold" font-size="27.5" text-anchor="middle">Gly</text>
<text transform="translate(1334.3,1409) scale(1,1.05)" font-family="Liberation Sans, Arial, sans-serif" font-weight="bold" font-size="27.5" text-anchor="middle">Arg</text>
<text transform="translate(1473.3,1409) scale(1,1.05)" font-family="Liberation Sans, Arial, sans-serif" font-weight="bold" font-size="27.5" text-anchor="middle">Glu</text>
<text transform="translate(906,1102) rotate(-90) scale(1,1.06)" font-family="Liberation Sans, Arial, sans-serif" font-weight="bold" font-size="30.1" text-anchor="middle" xml:space="preserve">Amino acid uptake (% of total)</text>
<text transform="translate(998,856.9) scale(1,1.05)" font-family="Liberation Sans, Arial, sans-serif" font-size="28">A549</text>
<rect x="1552.5" y="910.4" width="174" height="276.1" fill="#fff" stroke="#909090" stroke-width="1.1"/>
<rect x="1556.5" y="914.6" width="60.7" height="29.2" fill="#c2005e" stroke="#000" stroke-width="1.35"/>
<text transform="translate(1625.5,938.6) scale(1,1.05)" font-family="Liberation Sans, Arial, sans-serif" font-size="28">CAT1</text>
<rect x="1556.5" y="948.7" width="60.7" height="29.2" fill="#b15928" stroke="#000" stroke-width="1.35"/>
<text transform="translate(1625.5,972.7) scale(1,1.05)" font-family="Liberation Sans, Arial, sans-serif" font-size="28">xCT</text>
<rect x="1556.5" y="982.8" width="60.7" height="29.2" fill="#fdbf6f" stroke="#000" stroke-width="1.35"/>
<text transform="translate(1625.5,1006.8) scale(1,1.05)" font-family="Liberation Sans, Arial, sans-serif" font-size="28">y+LAT2</text>
<rect x="1556.5" y="1016.9" width="60.7" height="29.2" fill="#cab2d6" stroke="#000" stroke-width="1.35"/>
<text transform="translate(1625.5,1040.9) scale(1,1.05)" font-family="Liberation Sans, Arial, sans-serif" font-size="28">ASCT2</text>
<rect x="1556.5" y="1051" width="60.7" height="29.2" fill="#ff7f00" stroke="#000" stroke-width="1.35"/>
<text transform="translate(1625.5,1075) scale(1,1.05)" font-family="Liberation Sans, Arial, sans-serif" font-size="28">ASCT1</text>
<rect x="1556.5" y="1085.1" width="60.7" height="29.2" fill="#b2df8a" stroke="#000" stroke-width="1.35"/>
<text transform="translate(1625.5,1109.1) scale(1,1.05)" font-family="Liberation Sans, Arial, sans-serif" font-size="28">SNAT4</text>
<rect x="1556.5" y="1119.2" width="60.7" height="29.2" fill="#1f78b4" stroke="#000" stroke-width="1.35"/>
<text transform="translate(1625.5,1143.2) scale(1,1.05)" font-family="Liberation Sans, Arial, sans-serif" font-size="28">SNAT2</text>
<rect x="1556.5" y="1153.3" width="60.7" height="29.2" fill="#a6cee3" stroke="#000" stroke-width="1.35"/>
<text transform="translate(1625.5,1177.3) scale(1,1.05)" font-family="Liberation Sans, Arial, sans-serif" font-size="28">SNAT1</text>
<rect x="97.91" y="1658.62" width="41.8" height="465.58" fill="#fac798" stroke="#444" stroke-width="1.2"/>
<rect x="156.53" y="1632.56" width="41.8" height="491.64" fill="#fac798" stroke="#444" stroke-width="1.2"/>
<rect x="215.14" y="1751.89" width="41.8" height="372.31" fill="#fac798" stroke="#444" stroke-width="1.2"/>
<rect x="273.76" y="1785.87" width="41.8" height="338.33" fill="#fac798" stroke="#444" stroke-width="1.2"/>
<rect x="332.38" y="1918.03" width="41.8" height="206.17" fill="#fac798" stroke="#444" stroke-width="1.2"/>
<rect x="390.99" y="1982.6" width="41.8" height="141.6" fill="#fac798" stroke="#444" stroke-width="1.2"/>
<rect x="449.61" y="2066.05" width="41.8" height="58.15" fill="#fac798" stroke="#444" stroke-width="1.2"/>
<rect x="508.23" y="2074.36" width="41.8" height="49.84" fill="#fac798" stroke="#444" stroke-width="1.2"/>
<rect x="566.84" y="2083.8" width="41.8" height="40.4" fill="#fac798" stroke="#444" stroke-width="1.2"/>
<rect x="625.46" y="2096.26" width="41.8" height="27.94" fill="#fac798" stroke="#444" stroke-width="1.2"/>
<rect x="684.08" y="2115.52" width="41.8" height="8.68" fill="#fac798" stroke="#444" stroke-width="1.2"/>
<rect x="742.69" y="2118.54" width="41.8" height="5.66" fill="#fac798" stroke="#444" stroke-width="1.2"/>
<path d="M118.81 1658.62V1631.43M108.31 1631.43h21" stroke="#333" stroke-width="1.1" fill="none"/>
<path d="M177.43 1632.56V1596.32M166.93 1596.32h21" stroke="#333" stroke-width="1.1" fill="none"/>
<path d="M236.04 1751.89V1718.28M225.54 1718.28h21" stroke="#333" stroke-width="1.1" fill="none"/>
<path d="M294.66 1785.87V1765.48M284.16 1765.48h21" stroke="#333" stroke-width="1.1" fill="none"/>
<path d="M353.27 1918.03V1898.4M342.77 1898.4h21" stroke="#333" stroke-width="1.1" fill="none"/>
<path d="M411.89 1982.6V1967.5M401.39 1967.5h21" stroke="#333" stroke-width="1.1" fill="none"/>
<path d="M470.51 2066.05V2057.74M460.01 2057.74h21" stroke="#333" stroke-width="1.1" fill="none"/>
<path d="M529.12 2074.36V2067.18M518.62 2067.18h21" stroke="#333" stroke-width="1.1" fill="none"/>
<path d="M587.74 2083.8V2078.89M577.24 2078.89h21" stroke="#333" stroke-width="1.1" fill="none"/>
<path d="M646.36 2096.26V2094.37M635.86 2094.37h21" stroke="#333" stroke-width="1.1" fill="none"/>
<path d="M704.98 2115.52V2112.12M694.48 2112.12h21" stroke="#333" stroke-width="1.1" fill="none"/>
<path d="M763.59 2118.54V2116.65M753.09 2116.65h21" stroke="#333" stroke-width="1.1" fill="none"/>
<circle cx="111.6" cy="1630.7" r="5.4" fill="#404040"/>
<circle cx="113.9" cy="1638.7" r="5.4" fill="#404040"/>
<circle cx="123.3" cy="1658.8" r="5.4" fill="#404040"/>
<circle cx="112.9" cy="1665.8" r="5.4" fill="#404040"/>
<circle cx="118.1" cy="1674.1" r="5.4" fill="#404040"/>
<circle cx="116.5" cy="1675" r="5.4" fill="#404040"/>
<circle cx="117.2" cy="1688.9" r="5.4" fill="#404040"/>
<circle cx="178.6" cy="1595.3" r="5.4" fill="#404040"/>
<circle cx="179.9" cy="1617.8" r="5.4" fill="#404040"/>
<circle cx="177.2" cy="1622.4" r="5.4" fill="#404040"/>
<circle cx="172.5" cy="1648.8" r="5.4" fill="#404040"/>
<circle cx="179.9" cy="1648.8" r="5.4" fill="#404040"/>
<circle cx="177.2" cy="1663.9" r="5.4" fill="#404040"/>
<circle cx="239" cy="1718.4" r="5.4" fill="#404040"/>
<circle cx="234" cy="1727.6" r="5.4" fill="#404040"/>
<circle cx="235.3" cy="1741.4" r="5.4" fill="#404040"/>
<circle cx="230.7" cy="1746.6" r="5.4" fill="#404040"/>
<circle cx="234" cy="1752.9" r="5.4" fill="#404040"/>
<circle cx="234" cy="1765.4" r="5.4" fill="#404040"/>
<circle cx="239.9" cy="1769.1" r="5.4" fill="#404040"/>
<circle cx="233.4" cy="1778.3" r="5.4" fill="#404040"/>
<circle cx="292.5" cy="1765" r="5.4" fill="#404040"/>
<circle cx="293.4" cy="1788.5" r="5.4" fill="#404040"/>
<circle cx="290.6" cy="1795" r="5.4" fill="#404040"/>
<circle cx="296.2" cy="1793.1" r="5.4" fill="#404040"/>
<circle cx="296.2" cy="1809.7" r="5.4" fill="#404040"/>
<circle cx="354.9" cy="1897.8" r="5.4" fill="#404040"/>
<circle cx="353.7" cy="1902.9" r="5.4" fill="#404040"/>
<circle cx="352.3" cy="1906.1" r="5.4" fill="#404040"/>
<circle cx="351.4" cy="1909.8" r="5.4" fill="#404040"/>
<circle cx="350.9" cy="1922.3" r="5.4" fill="#404040"/>
<circle cx="354" cy="1932.9" r="5.4" fill="#404040"/>
<circle cx="363.4" cy="1939.4" r="5.4" fill="#404040"/>
<circle cx="412.3" cy="1967" r="5.4" fill="#404040"/>
<circle cx="415" cy="1973.5" r="5.4" fill="#404040"/>
<circle cx="416" cy="1977.6" r="5.4" fill="#404040"/>
<circle cx="408.1" cy="1988.3" r="5.4" fill="#404040"/>
<circle cx="404.4" cy="1993.8" r="5.4" fill="#404040"/>
<circle cx="414.6" cy="1992.4" r="5.4" fill="#404040"/>
<circle cx="467" cy="2057.8" r="5.4" fill="#404040"/>
<circle cx="474.3" cy="2061.9" r="5.4" fill="#404040"/>
<circle cx="471.1" cy="2066.1" r="5.4" fill="#404040"/>
<circle cx="467" cy="2069.2" r="5.4" fill="#404040"/>
<circle cx="472.2" cy="2070.2" r="5.4" fill="#404040"/>
<circle cx="526.8" cy="2066.1" r="5.4" fill="#404040"/>
<circle cx="531.3" cy="2072.3" r="5.4" fill="#404040"/>
<circle cx="527.2" cy="2074.4" r="5.4" fill="#404040"/>
<circle cx="532.4" cy="2076.5" r="5.4" fill="#404040"/>
<circle cx="525.1" cy="2078.5" r="5.4" fill="#404040"/>
<circle cx="527.6" cy="2082.7" r="5.4" fill="#404040"/>
<circle cx="583.2" cy="2078.5" r="5.4" fill="#404040"/>
<circle cx="587.4" cy="2080.6" r="5.4" fill="#404040"/>
<circle cx="593.6" cy="2081.7" r="5.4" fill="#404040"/>
<circle cx="581.2" cy="2083.7" r="5.4" fill="#404040"/>
<circle cx="585.3" cy="2086.8" r="5.4" fill="#404040"/>
<circle cx="584.3" cy="2090" r="5.4" fill="#404040"/>
<circle cx="643.4" cy="2094.1" r="5.4" fill="#404040"/>
<circle cx="649.7" cy="2095.1" r="5.4" fill="#404040"/>
<circle cx="651.8" cy="2100.3" r="5.4" fill="#404040"/>
<circle cx="640.3" cy="2096.2" r="5.4" fill="#404040"/>
<circle cx="702.6" cy="2112.8" r="5.4" fill="#404040"/>
<circle cx="703.6" cy="2115.9" r="5.4" fill="#404040"/>
<circle cx="701.6" cy="2113.8" r="5.4" fill="#404040"/>
<circle cx="759.7" cy="2117" r="5.4" fill="#404040"/>
<circle cx="767" cy="2115.9" r="5.4" fill="#404040"/>
<circle cx="762.8" cy="2118.4" r="5.4" fill="#404040"/>
<rect x="89.5" y="1557.8" width="703.4" height="566.4" fill="none" stroke="#000" stroke-width="1.8"/>
<path d="M78.5 2124.2H89.5M84 2029.8H89.5M78.5 1935.4H89.5M84 1841H89.5M78.5 1746.6H89.5M84 1652.2H89.5M78.5 1557.8H89.5M118.81 2124.2v11M177.43 2124.2v11M236.04 2124.2v11M294.66 2124.2v11M353.27 2124.2v11M411.89 2124.2v11M470.51 2124.2v11M529.12 2124.2v11M587.74 2124.2v11M646.36 2124.2v11M704.98 2124.2v11M763.59 2124.2v11" stroke="#000" stroke-width="1.8" fill="none"/>
<text transform="translate(69.7,2134) scale(1,1.05)" font-family="Liberation Sans, Arial, sans-serif" font-weight="bold" font-size="31" text-anchor="end">0</text>
<text transform="translate(69.7,1945.2) scale(1,1.05)" font-family="Liberation Sans, Arial, sans-serif" font-weight="bold" font-size="31" text-anchor="end">5</text>
<text transform="translate(69.7,1756.4) scale(1,1.05)" font-family="Liberation Sans, Arial, sans-serif" font-weight="bold" font-size="31" text-anchor="end">10</text>
<text transform="translate(69.7,1567.6) scale(1,1.05)" font-family="Liberation Sans, Arial, sans-serif" font-weight="bold" font-size="31" text-anchor="end">15</text>
<text transform="translate(118.81,2165.7) scale(1,1.05)" font-family="Liberation Sans, Arial, sans-serif" font-weight="bold" font-size="28.5" text-anchor="middle">Leu</text>
<text transform="translate(177.43,2165.7) scale(1,1.05)" font-family="Liberation Sans, Arial, sans-serif" font-weight="bold" font-size="28.5" text-anchor="middle">Ala</text>
<text transform="translate(236.04,2165.7) scale(1,1.05)" font-family="Liberation Sans, Arial, sans-serif" font-weight="bold" font-size="28.5" text-anchor="middle">Gln</text>
<text transform="translate(294.66,2165.7) scale(1,1.05)" font-family="Liberation Sans, Arial, sans-serif" font-weight="bold" font-size="28.5" text-anchor="middle">Ile</text>
<text transform="translate(353.27,2165.7) scale(1,1.05)" font-family="Liberation Sans, Arial, sans-serif" font-weight="bold" font-size="28.5" text-anchor="middle">His</text>
<text transform="translate(411.89,2165.7) scale(1,1.05)" font-family="Liberation Sans, Arial, sans-serif" font-weight="bold" font-size="28.5" text-anchor="middle">Tyr</text>
<text transform="translate(470.51,2165.7) scale(1,1.05)" font-family="Liberation Sans, Arial, sans-serif" font-weight="bold" font-size="28.5" text-anchor="middle">Arg</text>
<text transform="translate(529.12,2165.7) scale(1,1.05)" font-family="Liberation Sans, Arial, sans-serif" font-weight="bold" font-size="28.5" text-anchor="middle">Met</text>
<text transform="translate(587.74,2165.7) scale(1,1.05)" font-family="Liberation Sans, Arial, sans-serif" font-weight="bold" font-size="28.5" text-anchor="middle">Pro</text>
<text transform="translate(646.36,2165.7) scale(1,1.05)" font-family="Liberation Sans, Arial, sans-serif" font-weight="bold" font-size="28.5" text-anchor="middle">Gly</text>
<text transform="translate(704.98,2165.7) scale(1,1.05)" font-family="Liberation Sans, Arial, sans-serif" font-weight="bold" font-size="28.5" text-anchor="middle">Glu</text>
<text transform="translate(763.59,2165.7) scale(1,1.05)" font-family="Liberation Sans, Arial, sans-serif" font-weight="bold" font-size="28.5" text-anchor="middle">Asp</text>
<text transform="translate(23.4,1847.2) rotate(-90) scale(1,1.06)" font-family="Liberation Sans, Arial, sans-serif" font-weight="bold" font-size="28.7" text-anchor="middle">Amino Acid uptake (nmol/min*mg protein)</text>
<text transform="translate(777,1598.8) scale(1,1.05)" font-family="Liberation Sans, Arial, sans-serif" font-weight="bold" font-size="28.6" text-anchor="end">U87-MG</text>
<rect x="989.01" y="1719.57" width="41" height="405.03" fill="#fac798" stroke="#444" stroke-width="1.2"/>
<rect x="1047.62" y="1818.97" width="41" height="305.63" fill="#fac798" stroke="#444" stroke-width="1.2"/>
<rect x="1106.24" y="1831.61" width="41" height="292.99" fill="#fac798" stroke="#444" stroke-width="1.2"/>
<rect x="1164.86" y="1823.67" width="41" height="300.93" fill="#fac798" stroke="#444" stroke-width="1.2"/>
<rect x="1223.47" y="1862.42" width="41" height="262.18" fill="#fac798" stroke="#444" stroke-width="1.2"/>
<rect x="1282.09" y="1881.39" width="41" height="243.21" fill="#fac798" stroke="#444" stroke-width="1.2"/>
<rect x="1340.71" y="2019.37" width="41" height="105.23" fill="#fac798" stroke="#444" stroke-width="1.2"/>
<rect x="1399.32" y="2008.51" width="41" height="116.09" fill="#fac798" stroke="#444" stroke-width="1.2"/>
<rect x="1457.94" y="2082.77" width="41" height="41.83" fill="#fac798" stroke="#444" stroke-width="1.2"/>
<rect x="1516.56" y="2097.85" width="41" height="26.75" fill="#fac798" stroke="#444" stroke-width="1.2"/>
<rect x="1575.17" y="2087.96" width="41" height="36.64" fill="#fac798" stroke="#444" stroke-width="1.2"/>
<rect x="1633.79" y="2119.74" width="41" height="4.86" fill="#fac798" stroke="#444" stroke-width="1.2"/>
<path d="M1009.51 1719.57V1655.37M999.01 1655.37h21" stroke="#333" stroke-width="1.1" fill="none"/>
<path d="M1068.12 1818.97V1780.86M1057.62 1780.86h21" stroke="#333" stroke-width="1.1" fill="none"/>
<path d="M1126.74 1831.61V1800.32M1116.24 1800.32h21" stroke="#333" stroke-width="1.1" fill="none"/>
<path d="M1185.36 1823.67V1779.24M1174.86 1779.24h21" stroke="#333" stroke-width="1.1" fill="none"/>
<path d="M1243.97 1862.42V1836.8M1233.47 1836.8h21" stroke="#333" stroke-width="1.1" fill="none"/>
<path d="M1302.59 1881.39V1847.83M1292.09 1847.83h21" stroke="#333" stroke-width="1.1" fill="none"/>
<path d="M1361.21 2019.37V2006.4M1350.71 2006.4h21" stroke="#333" stroke-width="1.1" fill="none"/>
<path d="M1419.82 2008.51V2000.56M1409.32 2000.56h21" stroke="#333" stroke-width="1.1" fill="none"/>
<path d="M1478.44 2082.77V2078.55M1467.94 2078.55h21" stroke="#333" stroke-width="1.1" fill="none"/>
<path d="M1537.06 2097.85V2088.93M1526.56 2088.93h21" stroke="#333" stroke-width="1.1" fill="none"/>
<path d="M1595.67 2087.96V2081.63M1585.17 2081.63h21" stroke="#333" stroke-width="1.1" fill="none"/>
<path d="M1654.29 2119.74V2118.11M1643.79 2118.11h21" stroke="#333" stroke-width="1.1" fill="none"/>
<circle cx="1007.36" cy="1590.04" r="5.3" fill="#404040"/>
<circle cx="1004.23" cy="1628.74" r="5.3" fill="#404040"/>
<circle cx="1005.27" cy="1652.8" r="5.3" fill="#404040"/>
<circle cx="1002.13" cy="1724.46" r="5.3" fill="#404040"/>
<circle cx="1010.5" cy="1728.64" r="5.3" fill="#404040"/>
<circle cx="1004.23" cy="1747.47" r="5.3" fill="#404040"/>
<circle cx="1014.69" cy="1745.38" r="5.3" fill="#404040"/>
<circle cx="1007.89" cy="1815.98" r="5.3" fill="#404040"/>
<circle cx="1009.46" cy="1847.89" r="5.3" fill="#404040"/>
<circle cx="1063.33" cy="1755.31" r="5.3" fill="#404040"/>
<circle cx="1070.65" cy="1770.48" r="5.3" fill="#404040"/>
<circle cx="1060.19" cy="1789.83" r="5.3" fill="#404040"/>
<circle cx="1071.69" cy="1793.49" r="5.3" fill="#404040"/>
<circle cx="1064.37" cy="1806.05" r="5.3" fill="#404040"/>
<circle cx="1069.6" cy="1812.32" r="5.3" fill="#404040"/>
<circle cx="1068.56" cy="1870.38" r="5.3" fill="#404040"/>
<circle cx="1068.56" cy="1880.84" r="5.3" fill="#404040"/>
<circle cx="1068.56" cy="1894.96" r="5.3" fill="#404040"/>
<circle cx="1125.04" cy="1776.76" r="5.3" fill="#404040"/>
<circle cx="1129.23" cy="1779.37" r="5.3" fill="#404040"/>
<circle cx="1125.04" cy="1800.29" r="5.3" fill="#404040"/>
<circle cx="1121.9" cy="1818.08" r="5.3" fill="#404040"/>
<circle cx="1125.04" cy="1832.72" r="5.3" fill="#404040"/>
<circle cx="1125.04" cy="1841.09" r="5.3" fill="#404040"/>
<circle cx="1129.23" cy="1865.15" r="5.3" fill="#404040"/>
<circle cx="1132.36" cy="1879.79" r="5.3" fill="#404040"/>
<circle cx="1127.13" cy="1891.82" r="5.3" fill="#404040"/>
<circle cx="1183.62" cy="1749.56" r="5.3" fill="#404040"/>
<circle cx="1180.48" cy="1776.76" r="5.3" fill="#404040"/>
<circle cx="1183.62" cy="1799.25" r="5.3" fill="#404040"/>
<circle cx="1180.48" cy="1806.05" r="5.3" fill="#404040"/>
<circle cx="1189.9" cy="1812.32" r="5.3" fill="#404040"/>
<circle cx="1185.71" cy="1830.1" r="5.3" fill="#404040"/>
<circle cx="1188.85" cy="1908.56" r="5.3" fill="#404040"/>
<circle cx="1183.62" cy="1927.38" r="5.3" fill="#404040"/>
<circle cx="1240.1" cy="1806.57" r="5.3" fill="#404040"/>
<circle cx="1243.24" cy="1814.41" r="5.3" fill="#404040"/>
<circle cx="1241.15" cy="1842.13" r="5.3" fill="#404040"/>
<circle cx="1244.29" cy="1870.38" r="5.3" fill="#404040"/>
<circle cx="1243.24" cy="1883.97" r="5.3" fill="#404040"/>
<circle cx="1247.43" cy="1885.02" r="5.3" fill="#404040"/>
<circle cx="1250.56" cy="1886.07" r="5.3" fill="#404040"/>
<circle cx="1303.91" cy="1814.94" r="5.3" fill="#404040"/>
<circle cx="1299.73" cy="1834.29" r="5.3" fill="#404040"/>
<circle cx="1303.91" cy="1882.41" r="5.3" fill="#404040"/>
<circle cx="1301.82" cy="1893.39" r="5.3" fill="#404040"/>
<circle cx="1299.73" cy="1903.85" r="5.3" fill="#404040"/>
<circle cx="1301.82" cy="1913.26" r="5.3" fill="#404040"/>
<circle cx="1300.77" cy="1921.63" r="5.3" fill="#404040"/>
<circle cx="1312.28" cy="1937.85" r="5.3" fill="#404040"/>
<circle cx="1354" cy="1996.7" r="5.3" fill="#404040"/>
<circle cx="1363.8" cy="1998.2" r="5.3" fill="#404040"/>
<circle cx="1367.8" cy="1998.2" r="5.3" fill="#404040"/>
<circle cx="1361.6" cy="2027.8" r="5.3" fill="#404040"/>
<circle cx="1368.2" cy="2026.7" r="5.3" fill="#404040"/>
<circle cx="1363.8" cy="2031.1" r="5.3" fill="#404040"/>
<circle cx="1354.4" cy="2041" r="5.3" fill="#404040"/>
<circle cx="1417.1" cy="1995.6" r="5.3" fill="#404040"/>
<circle cx="1423" cy="1999.3" r="5.3" fill="#404040"/>
<circle cx="1423" cy="2004.8" r="5.3" fill="#404040"/>
<circle cx="1418.6" cy="2008.1" r="5.3" fill="#404040"/>
<circle cx="1424.1" cy="2013.6" r="5.3" fill="#404040"/>
<circle cx="1417.5" cy="2021.2" r="5.3" fill="#404040"/>
<circle cx="1417.5" cy="2024.5" r="5.3" fill="#404040"/>
<circle cx="1476.7" cy="2076" r="5.3" fill="#404040"/>
<circle cx="1478.2" cy="2083.7" r="5.3" fill="#404040"/>
<circle cx="1483.3" cy="2088.1" r="5.3" fill="#404040"/>
<circle cx="1475.6" cy="2090.3" r="5.3" fill="#404040"/>
<circle cx="1480" cy="2081.5" r="5.3" fill="#404040"/>
<circle cx="1537" cy="2083.7" r="5.3" fill="#404040"/>
<circle cx="1542.4" cy="2090.3" r="5.3" fill="#404040"/>
<circle cx="1535.9" cy="2097.9" r="5.3" fill="#404040"/>
<circle cx="1535.9" cy="2112.2" r="5.3" fill="#404040"/>
<circle cx="1542.4" cy="2114.4" r="5.3" fill="#404040"/>
<circle cx="1533.7" cy="2087" r="5.3" fill="#404040"/>
<circle cx="1590.7" cy="2079.3" r="5.3" fill="#404040"/>
<circle cx="1596.1" cy="2077.1" r="5.3" fill="#404040"/>
<circle cx="1594" cy="2087" r="5.3" fill="#404040"/>
<circle cx="1600.5" cy="2094.6" r="5.3" fill="#404040"/>
<circle cx="1590.7" cy="2096.8" r="5.3" fill="#404040"/>
<circle cx="1595" cy="2092.5" r="5.3" fill="#404040"/>
<circle cx="1648.7" cy="2118.7" r="5.3" fill="#404040"/>
<circle cx="1654.2" cy="2117.7" r="5.3" fill="#404040"/>
<circle cx="1659.7" cy="2118.3" r="5.3" fill="#404040"/>
<circle cx="1648.7" cy="2120.5" r="5.3" fill="#404040"/>
<rect x="980.2" y="1557.1" width="703.4" height="567.5" fill="none" stroke="#000" stroke-width="1.8"/>
<path d="M969.2 2124.6H980.2M974.7 2043.53H980.2M969.2 1962.46H980.2M974.7 1881.39H980.2M969.2 1800.32H980.2M974.7 1719.25H980.2M969.2 1638.18H980.2M974.7 1557.11H980.2M1009.51 2124.6v11M1068.12 2124.6v11M1126.74 2124.6v11M1185.36 2124.6v11M1243.97 2124.6v11M1302.59 2124.6v11M1361.21 2124.6v11M1419.82 2124.6v11M1478.44 2124.6v11M1537.06 2124.6v11M1595.67 2124.6v11M1654.29 2124.6v11" stroke="#000" stroke-width="1.8" fill="none"/>
<text transform="translate(962,2135.4) scale(1,1.05)" font-family="Liberation Sans, Arial, sans-serif" font-weight="bold" font-size="31" text-anchor="end">0</text>
<text transform="translate(962,1973.26) scale(1,1.05)" font-family="Liberation Sans, Arial, sans-serif" font-weight="bold" font-size="31" text-anchor="end">10</text>
<text transform="translate(962,1811.12) scale(1,1.05)" font-family="Liberation Sans, Arial, sans-serif" font-weight="bold" font-size="31" text-anchor="end">20</text>
<text transform="translate(962,1648.98) scale(1,1.05)" font-family="Liberation Sans, Arial, sans-serif" font-weight="bold" font-size="31" text-anchor="end">30</text>
<text transform="translate(1009.51,2164.8) scale(1,1.05)" font-family="Liberation Sans, Arial, sans-serif" font-weight="bold" font-size="28.5" text-anchor="middle">Leu</text>
<text transform="translate(1068.12,2164.8) scale(1,1.05)" font-family="Liberation Sans, Arial, sans-serif" font-weight="bold" font-size="28.5" text-anchor="middle">Ile</text>
<text transform="translate(1126.74,2164.8) scale(1,1.05)" font-family="Liberation Sans, Arial, sans-serif" font-weight="bold" font-size="28.5" text-anchor="middle">His</text>
<text transform="translate(1185.36,2164.8) scale(1,1.05)" font-family="Liberation Sans, Arial, sans-serif" font-weight="bold" font-size="28.5" text-anchor="middle">Ala</text>
<text transform="translate(1243.97,2164.8) scale(1,1.05)" font-family="Liberation Sans, Arial, sans-serif" font-weight="bold" font-size="28.5" text-anchor="middle">Gln</text>
<text transform="translate(1302.59,2164.8) scale(1,1.05)" font-family="Liberation Sans, Arial, sans-serif" font-weight="bold" font-size="28.5" text-anchor="middle">Tyr</text>
<text transform="translate(1361.21,2164.8) scale(1,1.05)" font-family="Liberation Sans, Arial, sans-serif" font-weight="bold" font-size="28.5" text-anchor="middle">Met</text>
<text transform="translate(1419.82,2164.8) scale(1,1.05)" font-family="Liberation Sans, Arial, sans-serif" font-weight="bold" font-size="28.5" text-anchor="middle">Arg</text>
<text transform="translate(1478.44,2164.8) scale(1,1.05)" font-family="Liberation Sans, Arial, sans-serif" font-weight="bold" font-size="28.5" text-anchor="middle">Glu</text>
<text transform="translate(1537.06,2164.8) scale(1,1.05)" font-family="Liberation Sans, Arial, sans-serif" font-weight="bold" font-size="28.5" text-anchor="middle">Gly</text>
<text transform="translate(1595.67,2164.8) scale(1,1.05)" font-family="Liberation Sans, Arial, sans-serif" font-weight="bold" font-size="28.5" text-anchor="middle">Pro</text>
<text transform="translate(1654.29,2164.8) scale(1,1.05)" font-family="Liberation Sans, Arial, sans-serif" font-weight="bold" font-size="28.5" text-anchor="middle">Asp</text>
<text transform="translate(915.4,1847.4) rotate(-90) scale(1,1.06)" font-family="Liberation Sans, Arial, sans-serif" font-weight="bold" font-size="28.7" text-anchor="middle">Amino Acid uptake (nmol/min*mg protein)</text>
<text transform="translate(1665,1595.3) scale(1,1.05)" font-family="Liberation Sans, Arial, sans-serif" font-weight="bold" font-size="29" text-anchor="end">A549</text>
<text x="-1.5" y="62.3" font-family="Noto Sans CJK JP, Liberation Sans, sans-serif" fill="#231f20" font-size="79">a</text>
<text x="842.5" y="62.3" font-family="Noto Sans CJK JP, Liberation Sans, sans-serif" fill="#231f20" font-size="79">b</text>
<text x="-3.5" y="783.0" font-family="Noto Sans CJK JP, Liberation Sans, sans-serif" fill="#231f20" font-size="79">c</text>
<text x="848" y="782.8" font-family="Noto Sans CJK JP, Liberation Sans, sans-serif" fill="#231f20" font-size="79">d</text>
<text x="2" y="1512.0" font-family="Noto Sans CJK JP, Liberation Sans, sans-serif" fill="#231f20" font-size="79">e</text>
<text x="848" y="1512.1" font-family="Noto Sans CJK JP, Liberation Sans, sans-serif" fill="#231f20" font-size="79">f</text>
</svg></body></html>
